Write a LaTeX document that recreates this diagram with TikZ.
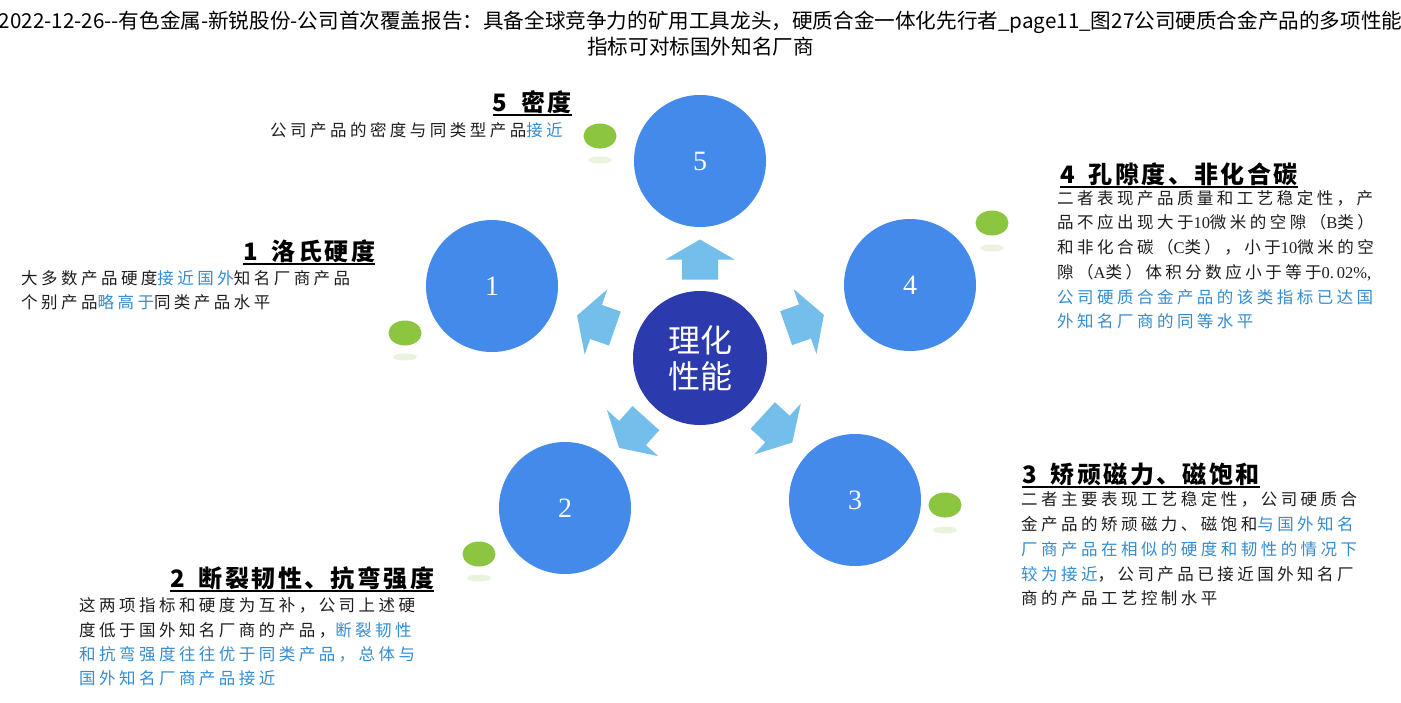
\documentclass[tikz,border=0pt]{standalone}
\usepackage{fontspec}
\usetikzlibrary{calc,shapes.geometric}
\newfontfamily\cjk{Noto Sans CJK SC}
\newfontfamily\cjkbody{Noto Sans CJK SC}[LetterSpace=21]
\newfontfamily\cjktitle{Noto Sans CJK SC}[LetterSpace=10]
\newfontfamily\numfont{Liberation Serif}
\definecolor{circblue}{RGB}{67,138,235}
\definecolor{coreblue}{RGB}{43,58,172}
\definecolor{arrowblue}{RGB}{116,190,235}
\definecolor{dotgreen}{RGB}{140,197,64}
\definecolor{hlblue}{RGB}{52,140,210}
\definecolor{bodyblack}{RGB}{30,30,30}
\newcommand\hl[1]{\textcolor{hlblue}{#1}}
\newcommand\lat[1]{{\numfont #1}}
\tikzset{
  outer/.style={circle, fill=circblue, minimum size=132pt, inner sep=0pt, text=white,
    font=\numfont\fontsize{28}{30}\selectfont},
  core/.style={circle, fill=coreblue, minimum size=134pt, inner sep=0pt, text=white, align=center,
    font=\cjk\fontsize{32}{36}\selectfont},
  gdot/.style={ellipse, fill=dotgreen, minimum width=33pt, minimum height=25pt, inner sep=0pt},
  gref/.style={ellipse, fill=dotgreen, fill opacity=0.18, minimum width=24pt, minimum height=7pt, inner sep=0pt},
  ttl/.style={inner sep=0pt, text=black, font=\cjktitle\bfseries\fontsize{24}{26}\selectfont},
  body/.style={anchor=base west, inner sep=0pt, text=bodyblack, font=\cjkbody\fontsize{16.5}{20}\selectfont},
  hdr/.style={anchor=base, inner sep=0pt, text=black, font=\cjk\fontsize{20.6}{24}\selectfont},
  uline/.style={line width=1.6pt, black},
  blockarr/.pic={\fill[arrowblue] (-20,-18) -- (0,-18) -- (0,-34.5) -- (20,0) -- (0,34.5) -- (0,18) -- (-20,18) -- cycle;}
}
\begin{document}
\begin{tikzpicture}[x=1pt,y=-1pt]
\useasboundingbox (0,0) rectangle (1401,702);
\fill[white] (0,0) rectangle (1401,702);

% header
\node[hdr] (h1) at (700.5,28) {2022-12-26--有色金属-新锐股份-公司首次覆盖报告：具备全球竞争力的矿用工具龙头，硬质合金一体化先行者\_page11\_图27公司硬质合金产品的多项性能};
\node[hdr] (h2) at (700.5,54) {指标可对标国外知名厂商};

% circles
\node[core] (c) at (700,358) {理化\\性能};
\node[outer] (n5) at (700,161) {5};
\node[outer] (n1) at (492,286) {1};
\node[outer] (n4) at (910,285) {4};
\node[outer] (n2) at (565,508) {2};
\node[outer] (n3) at (855,500) {3};

% block arrows
\path ($(c)!0.5!(n5)$) pic[rotate=90]{blockarr};
\path ($(c)!0.5!(n1)$) pic[rotate=160.9]{blockarr};
\path ($(c)!0.5!(n4)$) pic[rotate=19.4]{blockarr};
\path ($(c)!0.5!(n2)$) pic[rotate=228]{blockarr};
\path ($(c)!0.5!(n3)$) pic[rotate=-42.5]{blockarr};

% green dots with reflections
\node[gdot] (g5) at (600,136) {};
\node[gref] (r5) at (600,160) {};
\node[gdot] (g1) at (405,333) {};
\node[gref] (r1) at (405,357) {};
\node[gdot] (g4) at (992,223) {};
\node[gref] (r4) at (992,248) {};
\node[gdot] (g2) at (479,554) {};
\node[gref] (r2) at (479,578) {};
\node[gdot] (g3) at (945,505) {};
\node[gref] (r3) at (945,530) {};

% titles
\node[ttl, anchor=base east] (t5) at (572,111) {5\hspace{14pt}密度};
\node[ttl, anchor=base west] (t1) at (243,260) {1\hspace{14pt}洛氏硬度};
\node[ttl, anchor=base west] (t4) at (1060,183) {4\hspace{14pt}孔隙度、非化合碳};
\node[ttl, anchor=base west] (t2) at (170,587) {2\hspace{14pt}断裂韧性、抗弯强度};
\node[ttl, anchor=base west] (t3) at (1022,483) {3\hspace{14pt}矫顽磁力、磁饱和};
\foreach \t in {t5,t1,t4,t2,t3}{
  \draw[uline] ([yshift=-4pt]\t.base west) -- ([yshift=-4pt]\t.base east);
}

% body texts
\node[body] (b5a) at (270,136) {公司产品的密度与同类型产品\hl{接近}};

\node[body] (b1a) at (21,284) {大多数产品硬度\hl{接近国外}知名厂商产品};
\node[body] (b1b) at (21,308) {个别产品\hl{略高于}同类产品水平};

\node[body] (b4a) at (1057,204) {二者表现产品质量和工艺稳定性，产};
\node[body] (b4b) at (1057,228) {品不应出现大于\lat{10}微米的空隙（\lat{B}类）};
\node[body] (b4c) at (1057,253) {和非化合碳（\lat{C}类），小于\lat{10}微米的空};
\node[body] (b4d) at (1057,278) {隙（\lat{A}类）体积分数应小于等于\lat{0.\,02\%,}};
\node[body] (b4e) at (1057,303) {\hl{公司硬质合金产品的该类指标已达国}};
\node[body] (b4f) at (1057,327) {\hl{外知名厂商的同等水平}};

\node[body] (b2a) at (79,611) {这两项指标和硬度为互补，公司上述硬};
\node[body] (b2b) at (79,636) {度低于国外知名厂商的产品，\hl{断裂韧性}};
\node[body] (b2c) at (79,660) {\hl{和抗弯强度往往优于同类产品，总体与}};
\node[body] (b2d) at (79,684) {\hl{国外知名厂商产品接近}};

\node[body] (b3a) at (1021,505) {二者主要表现工艺稳定性，公司硬质合};
\node[body] (b3b) at (1021,530) {金产品的矫顽磁力、磁饱和\hl{与国外知名}};
\node[body] (b3c) at (1021,555) {\hl{厂商产品在相似的硬度和韧性的情况下}};
\node[body] (b3d) at (1021,580) {\hl{较为接近}，公司产品已接近国外知名厂};
\node[body] (b3e) at (1021,604) {商的产品工艺控制水平};
\end{tikzpicture}
\end{document}
